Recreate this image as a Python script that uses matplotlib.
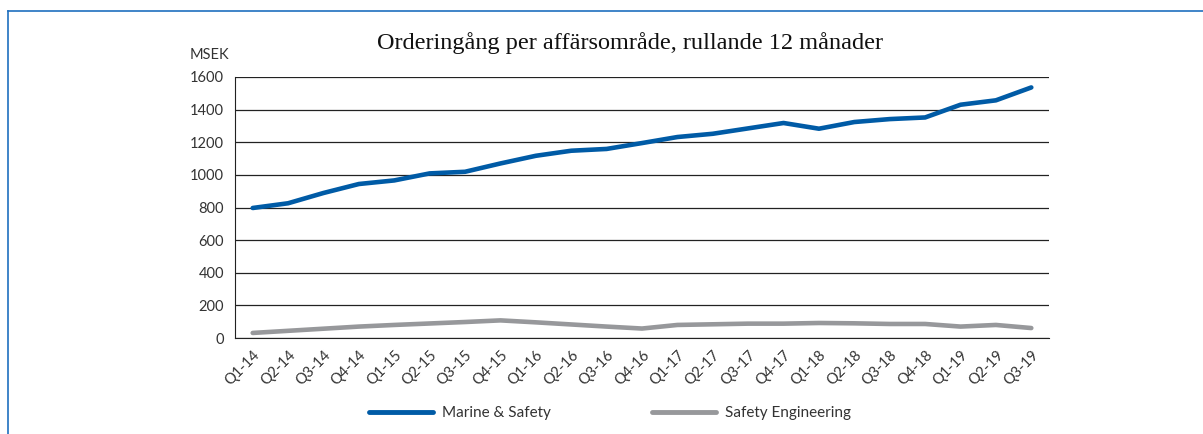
import matplotlib
matplotlib.use("Agg")
import matplotlib.pyplot as plt
from matplotlib.lines import Line2D
import numpy as np

# data (MSEK, rolling 12 months)
quarters = ["Q1-14", "Q2-14", "Q3-14", "Q4-14", "Q1-15", "Q2-15", "Q3-15", "Q4-15",
            "Q1-16", "Q2-16", "Q3-16", "Q4-16", "Q1-17", "Q2-17", "Q3-17", "Q4-17",
            "Q1-18", "Q2-18", "Q3-18", "Q4-18", "Q1-19", "Q2-19", "Q3-19"]
marine_safety = [797, 826, 889, 944, 966, 1009, 1019, 1070, 1117, 1148, 1159, 1195,
                 1232, 1252, 1285, 1318, 1283, 1324, 1342, 1352, 1430, 1457, 1536]
safety_eng = [31, 44, 57, 70, 80, 89, 98, 108, 96, 83, 70, 58,
              80, 84, 88, 88, 92, 90, 86, 86, 70, 80, 61]

blue = "#005BA6"
grey = "#97989B"
txt = "#333333"
tick_font = ["Lato", "DejaVu Sans"]

fig = plt.figure(figsize=(12.03, 4.34), dpi=100)
ax = fig.add_axes([235 / 1203, 1 - 338 / 434, (1049 - 235) / 1203, (338 - 77) / 434])

x = np.arange(len(quarters))
ax.plot(x, marine_safety, color=blue, lw=3.3, solid_capstyle="round", label="Marine & Safety")
ax.plot(x, safety_eng, color=grey, lw=3.3, solid_capstyle="round", label="Safety Engineering")

ax.set_xlim(-0.5, len(quarters) - 0.5)
ax.set_ylim(0, 1600)
ax.set_yticks(range(0, 1601, 200))
ax.grid(axis="y", color="#222222", lw=0.9)
ax.set_axisbelow(True)
for s in ["top", "right"]:
    ax.spines[s].set_visible(False)
ax.spines["left"].set_color("#222222")
ax.spines["bottom"].set_color("#222222")
ax.tick_params(length=0, colors=txt, labelsize=10.5)
ax.set_yticklabels([str(v) for v in range(0, 1601, 200)], family=tick_font)
ax.set_xticks(x)
ax.set_xticklabels(quarters, rotation=45, ha="right", rotation_mode="anchor",
                   family=tick_font, fontsize=10.5)
ax.tick_params(axis="x", pad=7)
ax.tick_params(axis="y", pad=8)

fig.text(190 / 1203, 1 - 55 / 434, "MSEK", fontsize=10.5, color=txt, family=tick_font,
         va="center", ha="left")
fig.text(630 / 1203, 1 - 43 / 434, "Orderingång per affärsområde, rullande 12 månader",
         fontsize=17.5, family=["Liberation Serif", "DejaVu Serif"], color="#111111",
         ha="center", va="center")

leg = fig.legend(loc="center", bbox_to_anchor=(610 / 1203, 1 - 413 / 434), ncol=2,
                 frameon=False, handlelength=4.2, columnspacing=6.6, handletextpad=0.6,
                 prop={"family": tick_font, "size": 11})
for t in leg.get_texts():
    t.set_color(txt)
for h in leg.get_lines():
    h.set_linewidth(3.5)

# thin blue frame at top/left edge
fig.add_artist(Line2D([7.5 / 1203, 1], [1 - 10.5 / 434, 1 - 10.5 / 434], color="#1F6FBF", lw=1.2))
fig.add_artist(Line2D([7.5 / 1203, 7.5 / 1203], [0, 1 - 10.5 / 434], color="#1F6FBF", lw=1.2))

fig.savefig("out.png", dpi=100)
